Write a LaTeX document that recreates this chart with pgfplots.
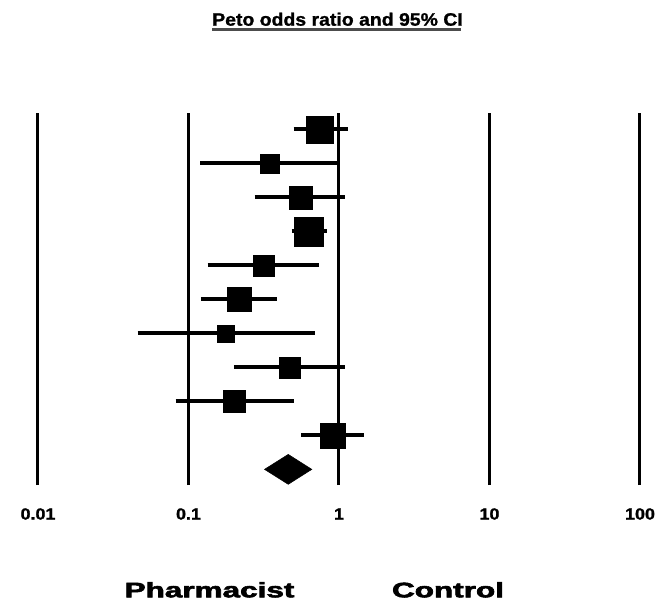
\documentclass[border=0pt]{standalone}
\usepackage{pgfplots}
\pgfplotsset{compat=1.18}
\usepackage{pgfplotstable}
\usepackage{graphicx}
\usepackage{fontspec}
\setmainfont{Liberation Sans}
\newfontfamily\heavyfont{Liberation Sans Bold}[FakeBold=2.5]
\newfontfamily\semiheavyfont{Liberation Sans Bold}[FakeBold=1.2]
\pgfplotstableread{
y or s
11 0.75 13.5
10 0.345 9.5
9 0.555 11.5
8 0.63 14.5
7 0.315 10.5
6 0.217 12
5 0.178 8.5
4 0.47 10.5
3 0.20 11
2 0.91 12.5
}\rows
\begin{document}
\begin{tikzpicture}
\useasboundingbox (0pt,0pt) rectangle (667pt,606pt);
\begin{axis}[at={(38pt,121pt)}, anchor=south west, scale only axis,
  width=602pt, height=372pt,
  xmode=log, xmin=0.01, xmax=100, ymin=0.54, ymax=11.48, clip=false,
  axis line style={draw=none}, major tick length=0pt, minor tick length=0pt,
  tick style={draw=none}, minor x tick num=0, ytick=\empty,
  xtick={0.01,0.1,1,10,100},
  xticklabels={\scalebox{1.12}[1]{0.01},\scalebox{1.12}[1]{0.1},\scalebox{1.12}[1]{1},\scalebox{1.12}[1]{10},\scalebox{1.12}[1]{100}},
  xticklabel style={anchor=center, yshift=-29pt, font=\fontsize{16}{16}\selectfont\semiheavyfont}]
% vertical reference lines
\addplot[black, line width=3pt] coordinates {(0.01,0.54) (0.01,11.48)};
\addplot[black, line width=3pt] coordinates {(0.1,0.54) (0.1,11.48)};
\addplot[black, line width=3pt] coordinates {(1,0.54) (1,11.48)};
\addplot[black, line width=3pt] coordinates {(10,0.54) (10,11.48)};
\addplot[black, line width=3pt] coordinates {(100,0.54) (100,11.48)};
% confidence intervals
\addplot[black, line width=4pt] coordinates {(0.50,11) (1.14,11)};
\addplot[black, line width=4pt] coordinates {(0.12,10) (1.0,10)};
\addplot[black, line width=4pt] coordinates {(0.275,9) (1.10,9)};
\addplot[black, line width=4pt] coordinates {(0.484,8) (0.836,8)};
\addplot[black, line width=4pt] coordinates {(0.134,7) (0.74,7)};
\addplot[black, line width=4pt] coordinates {(0.121,6) (0.39,6)};
\addplot[black, line width=4pt] coordinates {(0.046,5) (0.69,5)};
\addplot[black, line width=4pt] coordinates {(0.20,4) (1.10,4)};
\addplot[black, line width=4pt] coordinates {(0.082,3) (0.50,3)};
\addplot[black, line width=4pt] coordinates {(0.56,2) (1.47,2)};
% point estimates
\addplot[scatter, only marks, mark=square*,
  scatter/use mapped color={fill=black, draw=none},
  visualization depends on={\thisrow{s} \as \ms},
  scatter/@pre marker code/.append style={/tikz/mark size=\ms pt}]
  table[x=or, y=y] {\rows};
% pooled estimate
\addplot[fill=black, draw=black, line width=0.5pt] coordinates {(0.32,1) (0.46,1.44) (0.66,1) (0.46,0.56)} -- cycle;
\end{axis}
\node[anchor=base, font=\fontsize{18}{18}\selectfont\semiheavyfont] at (337.5pt,580.3pt) {\scalebox{1.08}[1]{Peto odds ratio and 95\% CI}};
\draw[line width=3pt, black!70] (212pt,576pt) -- (461pt,576pt);
\node[anchor=base, font=\fontsize{21}{21}\selectfont\heavyfont] at (209.5pt,8.7pt) {\scalebox{1.5}[1]{Pharmacist}};
\node[anchor=base, font=\fontsize{21}{21}\selectfont\heavyfont] at (448pt,8.7pt) {\scalebox{1.5}[1]{Control}};
\end{tikzpicture}
\end{document}
